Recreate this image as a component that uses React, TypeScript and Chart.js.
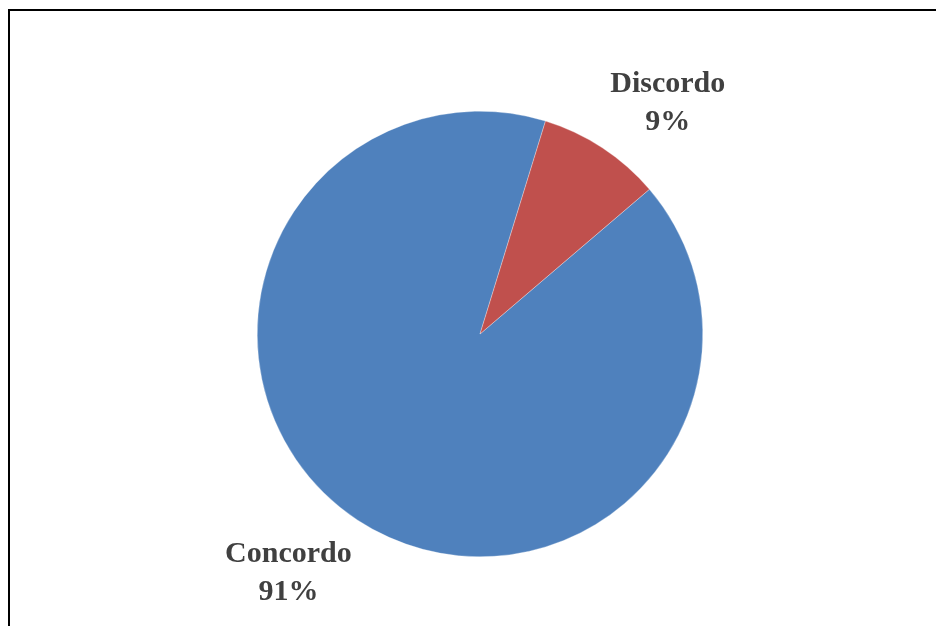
import React, { useEffect, useRef } from "react";
import { Chart, registerables } from "chart.js";

Chart.register(...registerables);

const categories = ["Concordo", "Discordo"];
const values = [91, 9];
const colors = ["#4F81BD", "#C0504D"];

const labelPlugin = {
  id: "outsideLabels",
  afterDatasetsDraw(chart: any) {
    const ctx = chart.ctx;
    const meta = chart.getDatasetMeta(0);
    const data = chart.data.datasets[0].data as number[];
    const total = data.reduce((a: number, b: number) => a + b, 0);
    ctx.save();
    ctx.font = "bold 30px 'Liberation Serif', 'Times New Roman', serif";
    ctx.fillStyle = "#404040";
    ctx.textBaseline = "alphabetic";
    ctx.textAlign = "center";
    const lineGap = 38;
    const cap = 20;
    meta.data.forEach((arc: any, i: number) => {
      const { x, y, startAngle, endAngle, outerRadius } = arc.getProps(
        ["x", "y", "startAngle", "endAngle", "outerRadius"],
        true
      );
      const mid = (startAngle + endAngle) / 2;
      const r = outerRadius + 20;
      const px = x + Math.cos(mid) * r;
      const py = y + Math.sin(mid) * r;
      const lines = [
        String(chart.data.labels[i]),
        Math.round((data[i] / total) * 100) + "%",
      ];
      const w = Math.max(...lines.map((l) => ctx.measureText(l).width));
      const h = cap + lineGap * (lines.length - 1);
      const left = Math.cos(mid) >= 0 ? px - 3 : px - w + 5;
      const top = Math.sin(mid) < 0 ? py - h - 1 : py + 5;
      lines.forEach((l, k) => {
        ctx.fillText(l, left + w / 2, top + cap + k * lineGap);
      });
    });
    ctx.restore();
  },
};

export default function App() {
  const ref = useRef<HTMLCanvasElement | null>(null);
  useEffect(() => {
    document.body.style.margin = "0";
    document.body.style.overflow = "hidden";
    const chart = new Chart(ref.current as HTMLCanvasElement, {
      type: "pie",
      data: {
        labels: categories,
        datasets: [
          {
            data: values,
            backgroundColor: colors,
            borderColor: "rgba(255,255,255,0.6)",
            borderWidth: 0.5,
          },
        ],
      },
      options: {
        animation: false,
        responsive: false,
        rotation: 49.5,
        layout: { padding: { top: 111, bottom: 69, left: 257, right: 233 } },
        plugins: {
          legend: { display: false },
          tooltip: { enabled: false },
          title: { display: false },
        },
      },
      plugins: [labelPlugin],
    });
    return () => chart.destroy();
  }, []);
  return (
    <div
      style={{
        position: "fixed",
        left: 0,
        top: 0,
        width: 936,
        height: 626,
        overflow: "hidden",
        background: "#fff",
      }}
    >
      <canvas
        ref={ref}
        width={936}
        height={626}
        style={{ position: "absolute", left: 0, top: 0, width: 936, height: 626 }}
      />
      <div
        style={{
          position: "absolute",
          left: 8,
          top: 9,
          width: 1000,
          height: 700,
          border: "2px solid #000",
          boxSizing: "border-box",
          pointerEvents: "none",
        }}
      />
    </div>
  );
}
